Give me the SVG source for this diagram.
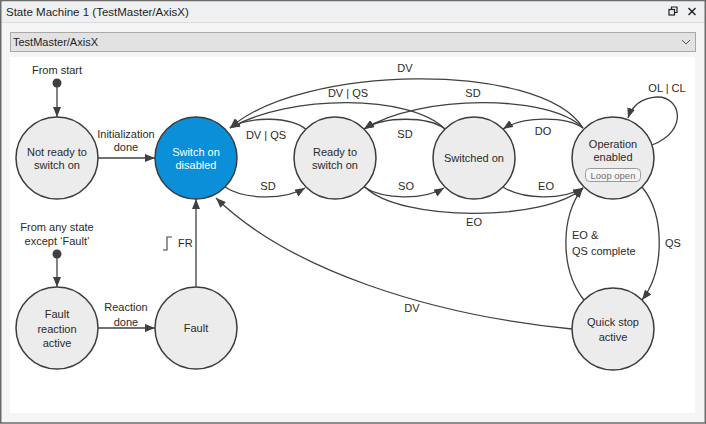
<svg xmlns="http://www.w3.org/2000/svg" width="706" height="424" viewBox="0 0 706 424">
<defs>
<style>
text{font-family:"Liberation Sans",Arial,sans-serif;font-size:11px;fill:#2a2a2a;}
.c{text-anchor:middle;}
.node{fill:#ececec;stroke:#3c3c3c;stroke-width:1.5;}
.edge{fill:none;stroke:#404040;stroke-width:1.3;}
.arr{marker-end:url(#ah);}
.w{fill:#ffffff;}
</style>
<marker id="ah" viewBox="0 0 10 8" refX="10" refY="4" markerWidth="10" markerHeight="8" markerUnits="userSpaceOnUse" orient="auto">
<path d="M0,0 L10,4 L0,8 z" fill="#404040"/>
</marker>
</defs>
<!-- window frame -->
<rect x="0" y="0" width="706" height="424" fill="#f5f5f5"/>
<rect x="0" y="0" width="706" height="22" fill="#eef0f2"/>
<line x1="0" y1="22.5" x2="706" y2="22.5" stroke="#dcdcdc"/>
<rect x="0.75" y="0.5" width="704.5" height="422.5" fill="none" stroke="#6a6a6a" stroke-width="1.5"/>
<text x="6" y="16" style="font-size:11.5px;fill:#1e1e1e">State Machine 1 (TestMaster/AxisX)</text>
<g id="restore-icon" fill="none" stroke="#222" stroke-width="1.2">
<rect x="669" y="9.5" width="5.5" height="5.5"/>
<path d="M671.5,9.5 V7 H677 V12.5 H674.5"/>
</g>
<g id="close-icon" stroke="#222" stroke-width="1.5">
<line x1="688.5" y1="8" x2="695.5" y2="15"/>
<line x1="695.5" y1="8" x2="688.5" y2="15"/>
</g>
<g id="dropdown">
<rect x="10.5" y="32.5" width="685" height="19" fill="#e2e2e2" stroke="#a9a9a9"/>
<text x="13" y="46" style="fill:#1e1e1e">TestMaster/AxisX</text>
<path d="M682,40 L686,44 L690,40" fill="none" stroke="#555" stroke-width="1"/>
</g>
<rect x="10" y="57" width="685" height="356" fill="#ffffff"/>

<g id="connectors">
<circle cx="57" cy="83" r="4.5" fill="#404040"/>
<path class="edge arr" d="M57,83 L57,117"/>
<circle cx="57" cy="254" r="4.5" fill="#404040"/>
<path class="edge arr" d="M57,254 L57,287"/>
<path class="edge arr" d="M98,158 L155,158"/>
<path class="edge arr" d="M98,328 L155,328"/>
<path class="edge arr" d="M196,287 L196,199"/>
<path class="edge arr" d="M583,128 C540,60 300,65 230,128"/>
<path class="edge arr" d="M445,129 C410,94 290,94 230,128"/>
<path class="edge arr" d="M583,128 C550,94 420,94 364,129"/>
<path class="edge arr" d="M307,130 C290,116 250,116 230,128"/>
<path class="edge arr" d="M445,129 C428,116 384,116 364,129"/>
<path class="edge arr" d="M583,128 C566,116 523,116 503,129"/>
<path class="edge arr" d="M225,187 C245,200 285,200 305,188"/>
<path class="edge arr" d="M364,187 C384,200 424,200 444,188"/>
<path class="edge arr" d="M503,187 C523,200 563,200 583,188"/>
<path class="edge arr" d="M365,187 C400,222 545,222 583,188"/>
<path class="edge arr" d="M642,187 C665,215 665,270 642,300"/>
<path class="edge arr" d="M584,300 C560,270 560,215 583,188"/>
<path class="edge arr" d="M572,329 C430,315 290,270 216,198"/>
<path class="edge arr" d="M652,145 C690,130 680,96 657,97 C641,98 632,106 628,118"/>
<path d="M163,250 H167 V237 H172" fill="none" stroke="#404040" stroke-width="1.1"/>
<text class="c" x="57" y="74">From start</text>
<text class="c" x="57" y="231">From any state</text>
<text class="c" x="57" y="245">except ‘Fault’</text>
<text class="c" x="126" y="138">Initialization</text>
<text class="c" x="126" y="151">done</text>
<text class="c" x="126" y="311">Reaction</text>
<text class="c" x="126" y="326">done</text>
<text x="178" y="247">FR</text>
<text class="c" x="405" y="72">DV</text>
<text class="c" x="348" y="97">DV | QS</text>
<text class="c" x="473" y="97">SD</text>
<text class="c" x="266" y="139">DV | QS</text>
<text class="c" x="405" y="138">SD</text>
<text class="c" x="543" y="135">DO</text>
<text class="c" x="268" y="190">SD</text>
<text class="c" x="406" y="190">SO</text>
<text class="c" x="546" y="190">EO</text>
<text class="c" x="474" y="226">EO</text>
<text class="c" x="667" y="92">OL | CL</text>
<text x="665" y="247">QS</text>
<text x="572" y="239">EO &amp;</text>
<text x="572" y="255">QS complete</text>
<text class="c" x="412" y="312">DV</text>
</g>

<g id="not-ready">
<circle class="node" cx="57" cy="158" r="41"/>
<text class="c" x="57" y="156">Not ready to</text>
<text class="c" x="57" y="169">switch on</text>
</g>
<g id="switch-on-disabled">
<circle cx="196" cy="158" r="41" fill="#0b8fd8" stroke="#3c3c3c" stroke-width="1.5"/>
<text class="c w" x="196" y="156">Switch on</text>
<text class="c w" x="196" y="169">disabled</text>
</g>
<g id="ready">
<circle class="node" cx="335" cy="158" r="41"/>
<text class="c" x="335" y="156">Ready to</text>
<text class="c" x="335" y="169">switch on</text>
</g>
<g id="switched-on">
<circle class="node" cx="474" cy="158" r="41"/>
<text class="c" x="474" y="162">Switched on</text>
</g>
<g id="operation-enabled">
<circle class="node" cx="613" cy="158" r="41"/>
<text class="c" x="613" y="148">Operation</text>
<text class="c" x="613" y="161">enabled</text>
<rect x="585.5" y="168.5" width="55" height="13" rx="4" fill="#f6f6f6" stroke="#9a9a9a"/>
<text class="c" x="613" y="178.5" style="font-size:9.5px;fill:#707070">Loop open</text>
</g>
<g id="fault-reaction">
<circle class="node" cx="57" cy="328" r="41"/>
<text class="c" x="57" y="318">Fault</text>
<text class="c" x="57" y="333">reaction</text>
<text class="c" x="57" y="347">active</text>
</g>
<g id="fault">
<circle class="node" cx="196" cy="328" r="41"/>
<text class="c" x="196" y="332">Fault</text>
</g>
<g id="quick-stop">
<circle class="node" cx="613" cy="329" r="41"/>
<text class="c" x="613" y="326">Quick stop</text>
<text class="c" x="613" y="341">active</text>
</g>
</svg>
